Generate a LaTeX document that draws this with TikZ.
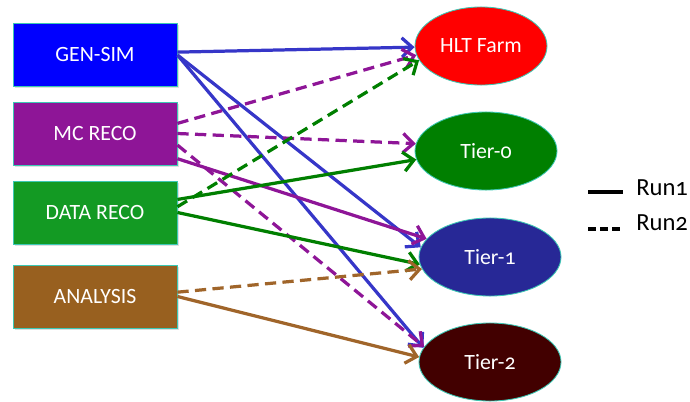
\documentclass[tikz,border=0pt]{standalone}
\usepackage{fontspec}
\setmainfont{Carlito}[Numbers=OldStyle]
\usepackage{tikz}
\usetikzlibrary{arrows.meta}
\usetikzlibrary{positioning}
\usetikzlibrary{shapes.geometric}
\usetikzlibrary{shadows}

\definecolor{genblue}{HTML}{0000FF}
\definecolor{mcpurple}{HTML}{8E1597}
\definecolor{datagreen}{HTML}{139A23}
\definecolor{anabrown}{HTML}{98601F}
\definecolor{hltred}{HTML}{FF0000}
\definecolor{tzgreen}{HTML}{007F00}
\definecolor{tonblue}{HTML}{272896}
\definecolor{ttwored}{HTML}{420000}
\definecolor{rimteal}{HTML}{3CC8B4}
\definecolor{lineblue}{HTML}{3636C8}
\definecolor{linebrown}{HTML}{A0652A}

\tikzset{
	taskbox/.style={draw=rimteal, line width=0.6pt, minimum width=4.1cm, minimum height=1.575cm,
		text=white, font=\fontsize{15.5}{18}\selectfont,
		drop shadow={opacity=0.25, shadow xshift=1.2pt, shadow yshift=-1.2pt}},
	siteoval/.style={ellipse, draw=rimteal, line width=0.6pt, text=white,
		font=\fontsize{15.5}{18}\selectfont, inner sep=0pt},
	flow/.style={line width=2.3pt, -{Straight Barb[length=2.6mm,width=4.8mm,line width=2.3pt]}},
	runtwo/.style={dash pattern=on 8pt off 4.5pt},
}

\begin{document}
\begin{tikzpicture}[x=0.025cm, y=-0.025cm]
		\useasboundingbox (0,0) rectangle (690,401);

		\node[taskbox, fill=genblue] (gensim) at (95,55) {GEN-SIM};
		\node[taskbox, fill=mcpurple] (mcreco) at (95,133.5) {MC RECO};
		\node[taskbox, fill=datagreen] (datareco) at (95,212.5) {DATA RECO};
		\node[taskbox, fill=anabrown] (analysis) at (95,296.5) {ANALYSIS};

		\node[siteoval, fill=hltred, minimum width=3.3cm, minimum height=1.95cm] (hlt) at (481,46) {HLT Farm};
		\node[siteoval, fill=tzgreen, minimum width=3.55cm, minimum height=1.95cm] (tierzero) at (486,151) {Tier-0};
		\node[siteoval, fill=tonblue, minimum width=3.55cm, minimum height=1.95cm] (tierone) at (490,257) {Tier-1};
		\node[siteoval, fill=ttwored, minimum width=3.55cm, minimum height=1.95cm] (tiertwo) at (490,362) {Tier-2};

		\draw[flow, lineblue] (gensim.2) -- (hlt.181);
		\draw[flow, lineblue] (gensim.east) -- (tierone.172);
		\draw[flow, lineblue] (gensim.east) -- (tiertwo.168);

		\draw[flow, runtwo, mcpurple] (mcreco.7) -- (hlt.188);
		\draw[flow, runtwo, mcpurple] (mcreco.east) -- (tierzero.174);
		\draw[flow, mcpurple] (mcreco.343) -- (tierone.164);
		\draw[flow, runtwo, mcpurple] (mcreco.352) -- (tiertwo.167);

		\draw[flow, runtwo, tzgreen] (datareco.4) -- (hlt.193);
		\draw[flow, tzgreen] (datareco.9) -- (tierzero.187);
		\draw[flow, tzgreen] (datareco.east) -- (tierone.186);

		\draw[flow, runtwo, linebrown] (analysis.3) -- (tierone.190);
		\draw[flow, linebrown] (analysis.east) -- (tiertwo.176);

		\coordinate (runonea) at (588,192);
		\coordinate (runoneb) at (623,192);
		\coordinate (runtwoa) at (588,229);
		\coordinate (runtwob) at (623,229);
		\draw[line width=2.2pt] (runonea) -- (runoneb);
		\draw[line width=2.2pt, dash pattern=on 5.5pt off 3.2pt] (runtwoa) -- (runtwob);
		\node[anchor=west, font=\fontsize{17.5}{20}\selectfont, inner sep=0pt] (runone) at (636,188) {Run1};
		\node[anchor=west, font=\fontsize{17.5}{20}\selectfont, inner sep=0pt] (runtwo) at (636,223) {Run2};
	\end{tikzpicture}
\end{document}
